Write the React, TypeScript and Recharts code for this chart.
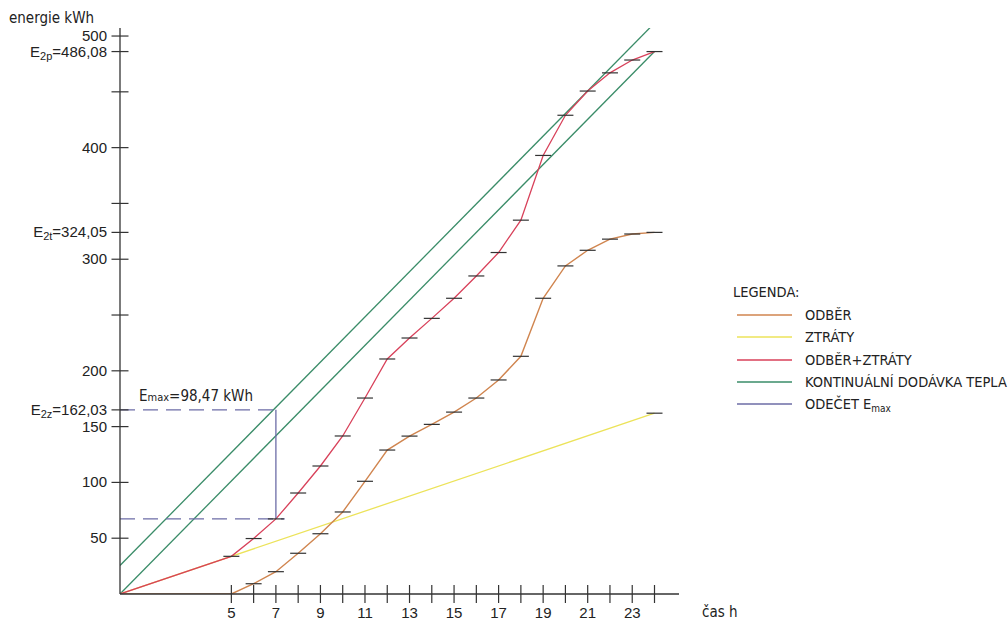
import React from 'react';
import {
  LineChart,
  Line,
  XAxis,
  YAxis,
  ReferenceLine,
  Legend,
  Customized,
} from 'recharts';

// hodiny s odečtenými hodnotami
const hours = [5, 6, 7, 8, 9, 10, 11, 12, 13, 14, 15, 16, 17, 18, 19, 20, 21, 22, 23, 24];
const odber = [0, 9.2, 20, 36.5, 54, 73.5, 101, 129, 141.5, 152, 163, 175.6, 191.8, 213, 265, 294, 308, 318, 322.6, 324.05];
const odberZtraty = [33.76, 49.7, 67.3, 90.5, 114.7, 141.6, 175.6, 210.6, 229.4, 247, 265, 285, 306, 335, 393, 429, 450.7, 467, 478.5, 486.08];

const ztratyHours = [0, 24];
const ztraty = [0, 162.03];

const dodavkaHours = [0, 24];
const dodavkaDolni = [0, 486.08];
const dodavkaHorni = [25.5, 511.6];

const emaxHour = 7;
const emaxTop = 165;
const emaxBottom = 67.3;

const xTicks = [5, 6, 7, 8, 9, 10, 11, 12, 13, 14, 15, 16, 17, 18, 19, 20, 21, 22, 23, 24];
const xTickLabels = ['5', '', '7', '', '9', '', '11', '', '13', '', '15', '', '17', '', '19', '', '21', '', '23', ''];

const yTicks = [50, 100, 150, 165, 200, 250, 300, 324.05, 350, 400, 450, 486.08, 500];
const yTickLabels = ['50', '100', '150', 'E_{2z}=162,03', '200', '', '300', 'E_{2t}=324,05', '', '400', '', 'E_{2p}=486,08', '500'];

const legendNames = ['ODBĚR', 'ZTRÁTY', 'ODBĚR+ZTRÁTY', 'KONTINUÁLNÍ  DODÁVKA  TEPLA', 'ODEČET  E_{max}'];

const C_ODBER = '#d0854f';
const C_ZTRATY = '#ece35a';
const C_SOUCET = '#d8415a';
const C_DODAVKA = '#3a8c68';
const C_EMAX = '#6c6ca6';
const legendColors = [C_ODBER, C_ZTRATY, C_SOUCET, C_DODAVKA, C_EMAX];

const AXIS = '#333';
const FONT = "'Liberation Sans', Arial, sans-serif";
const NARROW = "'Liberation Sans Narrow', 'DejaVu Sans Condensed', 'Liberation Sans', sans-serif";

const odberData = [{ x: 0, y: 0, mark: false }, ...hours.map((h, i) => ({ x: h, y: odber[i], mark: h >= 6 }))];
const soucetData = [{ x: 0, y: 0, mark: false }, ...hours.map((h, i) => ({ x: h, y: odberZtraty[i], mark: true }))];
const ztratyData = ztratyHours.map((h, i) => ({ x: h, y: ztraty[i], mark: h === 24 }));
const dolniData = dodavkaHours.map((h, i) => ({ x: h, y: dodavkaDolni[i] }));
const horniData = dodavkaHours.map((h, i) => ({ x: h, y: dodavkaHorni[i] }));

const SubText = ({ text, size, subSize }: { text: string; size: number; subSize: number }) => {
  const m = text.match(/^(.*)_\{(.*)\}(.*)$/);
  if (!m) return <>{text}</>;
  return (
    <>
      <tspan fontSize={size}>{m[1]}</tspan>
      <tspan fontSize={subSize} dy={3}>{m[2]}</tspan>
      <tspan fontSize={size} dy={-3}>{m[3]}</tspan>
    </>
  );
};

const dashDot = (props: any) => {
  const { cx, cy, payload, index } = props;
  if (!payload || !payload.mark || cx == null) return <g key={`d${index}`} />;
  return <line key={`d${index}`} x1={cx - 8} x2={cx + 8} y1={cy} y2={cy} stroke={AXIS} strokeWidth={1.2} />;
};

const YTick = (props: any) => {
  const { x, y, payload } = props;
  const i = yTicks.indexOf(payload.value);
  const label = i >= 0 ? yTickLabels[i] : '';
  return (
    <g>
      <line x1={x - 8.5} x2={x + 8.5} y1={y} y2={y} stroke={AXIS} strokeWidth={1.2} />
      {label && (
        <text x={x - 13} y={y + 5} textAnchor="end" fill="#222" fontFamily={FONT} fontSize={15}>
          <SubText text={label} size={15} subSize={11} />
        </text>
      )}
    </g>
  );
};

const XTick = (props: any) => {
  const { x, y, payload } = props;
  const i = xTicks.indexOf(payload.value);
  const label = i >= 0 ? xTickLabels[i] : '';
  return (
    <g>
      <line x1={x} x2={x} y1={y - 9} y2={y + 9} stroke={AXIS} strokeWidth={1.2} />
      {label && (
        <text x={x} y={y + 24} textAnchor="middle" fill="#222" fontFamily={FONT} fontSize={15}>
          {label}
        </text>
      )}
    </g>
  );
};

const LegendBox = () => (
  <div style={{ fontFamily: NARROW, color: '#222', fontSize: 14.5, width: 280 }}>
    <div style={{ height: 22, lineHeight: '22px', marginBottom: 1 }}>LEGENDA:</div>
    {legendNames.map((n, i) => (
      <div key={n} style={{ display: 'flex', alignItems: 'center', height: 22.3 }}>
        <svg width={72} height={10} style={{ flex: 'none' }}>
          <line x1={4} x2={59} y1={5} y2={5} stroke={legendColors[i]} strokeWidth={1.6} />
        </svg>
        <svg width={210} height={22} style={{ flex: 'none' }}>
          <text x={0} y={16} fontFamily={NARROW} fontSize={14.5} fill="#222">
            <SubText text={n} size={14.5} subSize={10} />
          </text>
        </svg>
      </div>
    ))}
  </div>
);

const Texts = () => (
  <g fill="#222">
    <text x={9} y={23} fontFamily={NARROW} fontSize={15}>energie  kWh</text>
    <text x={702} y={617} fontFamily={NARROW} fontSize={15}>čas  h</text>
    <text x={139} y={401} fontFamily={NARROW} fontSize={15}>
      <tspan>E</tspan>
      <tspan fontSize={11}>max</tspan>
      <tspan>=98,47 kWh</tspan>
    </text>
  </g>
);

export default function App() {
  return (
    <div style={{ position: 'absolute', left: 0, top: 0, width: 1008, height: 623, background: '#fff' }}>
      <LineChart width={1008} height={623} margin={{ top: 28, right: 329, bottom: 0, left: 0 }}>
        <XAxis
          type="number"
          dataKey="x"
          domain={[0, 25.1]}
          ticks={xTicks}
          interval={0}
          tickSize={0}
          tickMargin={0}
          tickLine={false}
          height={29}
          stroke={AXIS}
          strokeWidth={1.3}
          tick={<XTick />}
          allowDataOverflow
        />
        <YAxis
          type="number"
          dataKey="y"
          domain={[0, 507.2]}
          ticks={yTicks}
          interval={0}
          tickSize={0}
          tickMargin={0}
          tickLine={false}
          width={120}
          stroke={AXIS}
          strokeWidth={1.3}
          tick={<YTick />}
          allowDataOverflow
        />
        <Line data={horniData} dataKey="y" type="linear" stroke={C_DODAVKA} strokeWidth={1.3} dot={false} isAnimationActive={false} />
        <Line data={dolniData} dataKey="y" type="linear" stroke={C_DODAVKA} strokeWidth={1.3} dot={false} isAnimationActive={false} />
        <Line data={ztratyData} dataKey="y" type="linear" stroke={C_ZTRATY} strokeWidth={1.3} dot={dashDot} isAnimationActive={false} />
        <Line data={odberData} dataKey="y" type="linear" stroke={C_ODBER} strokeWidth={1.4} dot={dashDot} isAnimationActive={false} />
        <Line data={soucetData} dataKey="y" type="linear" stroke={C_SOUCET} strokeWidth={1.3} dot={dashDot} isAnimationActive={false} />
        <ReferenceLine
          segment={[{ x: 0, y: emaxTop }, { x: emaxHour, y: emaxTop }]}
          stroke={C_EMAX}
          strokeWidth={1.3}
          strokeDasharray="15 8"
          ifOverflow="visible"
        />
        <ReferenceLine
          segment={[{ x: 0, y: emaxBottom }, { x: emaxHour + 0.4, y: emaxBottom }]}
          stroke={C_EMAX}
          strokeWidth={1.3}
          strokeDasharray="15 8"
          ifOverflow="visible"
        />
        <ReferenceLine
          segment={[{ x: emaxHour, y: emaxBottom }, { x: emaxHour, y: emaxTop }]}
          stroke={C_EMAX}
          strokeWidth={1.3}
          ifOverflow="visible"
        />
        <Legend
          layout="vertical"
          align="center"
          verticalAlign="middle"
          content={<LegendBox />}
          wrapperStyle={{ left: 733, top: 281, width: 280 }}
        />
        <Customized component={<Texts />} />
      </LineChart>
    </div>
  );
}
